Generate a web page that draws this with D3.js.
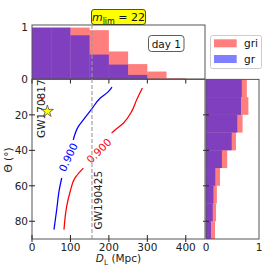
<!DOCTYPE html>
<html><head><meta charset="utf-8">
<script src="https://cdn.jsdelivr.net/npm/d3@7"></script>
<style>body{margin:0;background:#fff}svg{display:block}text{font-family:"DejaVu Sans",sans-serif}</style>
</head><body><div id="c"></div>
<script>
// ---- data ----
const distBins = [0,50,100,150,200,250,300,350,400,450];
const distGri = [1,1,1,0.95,0.535,0.29,0.145,0.015,0];
const distGr  = [1,1,0.85,0.475,0.28,0.08,0,0,0];
const thetaBins = [0,10,20,30,40,50,60,70,80,90];
const thetaGri = [0.77,0.80,0.69,0.565,0.40,0.265,0.205,0.19,0.17];
const thetaGr  = [0.675,0.66,0.59,0.485,0.30,0.175,0.14,0.127,0.094];
const blueSeg1 = [[208,4.3],[198.5,6.9],[177,10.6],[155,16.8],[133.5,22.8],[120.4,26.6],[107.4,34.1]];
const blueSeg2 = [[77.3,55.6],[71,62.2],[64.2,73.5],[57.2,84.7]];
const redSeg1 = [[287,4.8],[272,11.6],[259,18.2],[237.6,24.7],[216,28.5],[207,30.3]];
const redSeg2 = [[133.5,50],[112,55.5],[99,63.5],[90.2,71.6],[83.2,84.7]];
const contourLabels = [{t:"0.900",d:94.4,th:43.9,rot:-65,c:"blue"},{t:"0.900",d:174.3,th:40.3,rot:-45,c:"red"}];
const xTicks = [0,100,200,300,400];
const yTicks = [20,40,60,80];
const gw170817 = {d:40,th:18};
const gw170817dot = {d:26,th:11};
const gw190425 = 156;
const histTicks = [0,1];

// ---- layout ----
const W=266,H=266;
const svg=d3.select("#c").append("svg").attr("width",W).attr("height",H);
const x=d3.scaleLinear().domain([0,450]).range([32,205]);
const y=d3.scaleLinear().domain([0,90]).range([79.4,239]);
const yTop=d3.scaleLinear().domain([0,1.05]).range([79,25]);
const xR=d3.scaleLinear().domain([0,1]).range([206,259]);
const fs=10.5, spine="#555";
const RED="rgba(255,0,0,0.5)", BLUE="rgba(0,0,255,0.5)";

// top histogram
const gT=svg.append("g");
[[distGri,RED],[distGr,BLUE]].forEach(([vals,col])=>{
  gT.selectAll(null).data(vals).enter().append("rect")
    .attr("x",(d,i)=>x(distBins[i])).attr("width",(d,i)=>x(distBins[i+1])-x(distBins[i]))
    .attr("y",d=>yTop(d)).attr("height",d=>yTop(0)-yTop(d)).attr("fill",col);
});
gT.append("rect").attr("x",32).attr("y",25).attr("width",173).attr("height",54).attr("fill","none").attr("stroke",spine);
histTicks.forEach(t=>{
  gT.append("text").attr("x",28).attr("y",yTop(t)+3.8).attr("text-anchor","end").attr("font-size",fs).attr("fill","#222").text(t);
});

// right histogram
const gR=svg.append("g");
[[thetaGri,RED],[thetaGr,BLUE]].forEach(([vals,col])=>{
  gR.selectAll(null).data(vals).enter().append("rect")
    .attr("y",(d,i)=>y(thetaBins[i])).attr("height",(d,i)=>y(thetaBins[i+1])-y(thetaBins[i]))
    .attr("x",xR(0)).attr("width",d=>xR(d)-xR(0)).attr("fill",col);
});
gR.append("rect").attr("x",206).attr("y",79.4).attr("width",53).attr("height",159.6).attr("fill","none").attr("stroke",spine);
yTicks.forEach(t=>{
  gR.append("line").attr("x1",203).attr("x2",209).attr("y1",y(t)).attr("y2",y(t)).attr("stroke","#222");
});
histTicks.forEach(t=>{
  gR.append("text").attr("x",xR(t)).attr("y",251).attr("text-anchor","middle").attr("font-size",fs).attr("fill","#222").text(t);
});

// main plot
const gM=svg.append("g");
gM.append("rect").attr("x",32).attr("y",79.4).attr("width",173).attr("height",159.6).attr("fill","none").attr("stroke",spine);
xTicks.forEach(t=>{
  gM.append("line").attr("x1",x(t)).attr("x2",x(t)).attr("y1",79.4).attr("y2",83.5).attr("stroke","#222");
  gM.append("line").attr("x1",x(t)).attr("x2",x(t)).attr("y1",235).attr("y2",242).attr("stroke","#222");
  gM.append("text").attr("x",x(t)).attr("y",251).attr("text-anchor","middle").attr("font-size",fs).attr("fill","#222").text(t);
});
yTicks.forEach(t=>{
  gM.append("line").attr("x1",29).attr("x2",35).attr("y1",y(t)).attr("y2",y(t)).attr("stroke","#222");
  gM.append("text").attr("x",28).attr("y",y(t)+3.8).attr("text-anchor","end").attr("font-size",fs).attr("fill","#222").text(t);
});
// dashed line
svg.append("line").attr("x1",x(gw190425)).attr("x2",x(gw190425)).attr("y1",25).attr("y2",239)
  .attr("stroke","#999").attr("stroke-width",1.1).attr("stroke-dasharray","4,2");
// contours
const line=d3.line().x(d=>x(d[0])).y(d=>y(d[1])).curve(d3.curveMonotoneY);
[[blueSeg1,"blue"],[blueSeg2,"blue"],[redSeg1,"red"],[redSeg2,"red"]].forEach(([s,c])=>{
  gM.append("path").attr("d",line(s)).attr("fill","none").attr("stroke",c).attr("stroke-width",1.25);
});
contourLabels.forEach(l=>{
  gM.append("text").attr("transform",`translate(${x(l.d)},${y(l.th)}) rotate(${l.rot})`)
    .attr("text-anchor","middle").attr("dy","0.35em").attr("font-size",fs).attr("fill",l.c).text(l.t);
});
// GW labels
gM.append("text").attr("transform",`translate(45,138) rotate(-90)`).attr("font-size",fs).attr("fill","#222").text("GW170817");
gM.append("text").attr("transform",`translate(101.5,229.5) rotate(-90)`).attr("font-size",fs).attr("fill","#222").text("GW190425");
gM.append("circle").attr("cx",x(gw170817dot.d)).attr("cy",y(gw170817dot.th)).attr("r",1.4).attr("fill","red");
gM.append("path").attr("d",d3.symbol(d3.symbolStar).size(45)()).attr("transform",`translate(${x(gw170817.d)},${y(gw170817.th)})`)
  .attr("fill","#ffff00").attr("stroke","#222").attr("stroke-width",0.6);

// axis labels
const xl=svg.append("text").attr("x",118.5).attr("y",262).attr("text-anchor","middle").attr("font-size",fs).attr("fill","#222");
xl.append("tspan").attr("font-style","italic").text("D");
xl.append("tspan").attr("font-size",7.5).attr("dy",2.5).text("L");
xl.append("tspan").attr("dy",-2.5).text(" (Mpc)");
svg.append("text").attr("transform","translate(12,160) rotate(-90)").attr("text-anchor","middle").attr("font-size",fs).attr("fill","#222").text("Θ (°)");

// title box
svg.append("rect").attr("x",91.5).attr("y",9.5).attr("width",54).attr("height",15).attr("rx",2.5).attr("fill","#ffff00").attr("stroke","#222").attr("stroke-width",0.8);
const tt=svg.append("text").attr("x",118.5).attr("y",21).attr("text-anchor","middle").attr("font-size",11).attr("fill","#111");
tt.append("tspan").attr("font-style","italic").text("m");
tt.append("tspan").attr("font-size",8).attr("dy",2.5).text("lim");
tt.append("tspan").attr("dy",-2.5).text(" = 22");

// day 1 box
svg.append("rect").attr("x",148.5).attr("y",35.5).attr("width",35.5).attr("height",16).attr("rx",3).attr("fill","#fff").attr("stroke","#333").attr("stroke-width",0.8);
svg.append("text").attr("x",166.3).attr("y",47.5).attr("text-anchor","middle").attr("font-size",fs).attr("fill","#111").text("day 1");

// legend
const lg=svg.append("g");
lg.append("rect").attr("x",210.5).attr("y",35.5).attr("width",51).attr("height",33).attr("rx",2).attr("fill","#fff").attr("stroke","#ccc");
[["gri",RED,39.3],["gr",BLUE,55]].forEach(([t,c,yy])=>{
  lg.append("rect").attr("x",214).attr("y",yy).attr("width",22.7).attr("height",8).attr("fill",c);
  lg.append("text").attr("x",244).attr("y",yy+7.5).attr("font-size",fs).attr("fill","#111").text(t);
});
</script></body></html>
